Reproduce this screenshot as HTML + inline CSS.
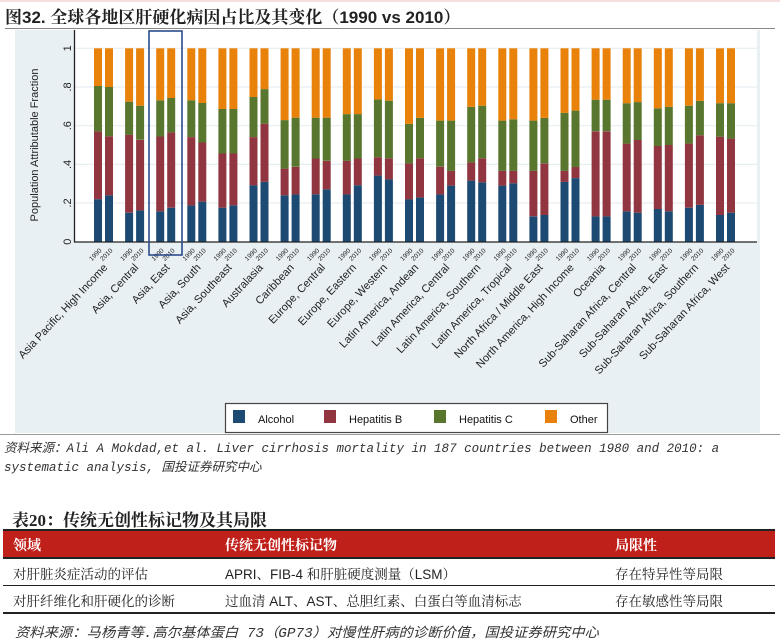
<!DOCTYPE html>
<html><head><meta charset="utf-8"><style>
html,body{margin:0;padding:0;background:#fff;}
body{width:780px;height:641px;position:relative;overflow:hidden;font-family:"Liberation Sans","Noto Sans CJK SC",sans-serif;}
.abs{position:absolute;white-space:nowrap;}
.title{left:5px;top:3px;font-size:17px;font-weight:bold;font-family:"Liberation Sans","Noto Serif CJK SC",serif;color:#222;}
.src{font-family:"Liberation Mono","Noto Sans CJK SC",monospace;font-style:italic;font-size:12.5px;color:#333;transform:scaleX(1.0);transform-origin:left;}
.cell{font-family:"Liberation Sans","Noto Serif CJK SC",serif;font-size:13.5px;color:#222;}
.hd{font-family:"Liberation Sans","Noto Serif CJK SC",serif;font-size:14px;font-weight:bold;color:#fff;}
</style></head><body>
<div class="abs" style="left:0;top:0;width:780px;height:2px;background:#f6dede"></div>
<div class="abs title">图32. 全球各地区肝硬化病因占比及其变化（1990 vs 2010）</div>
<div class="abs" style="left:5px;top:28px;width:770px;height:1px;background:#888"></div>
<svg class="abs" style="left:0;top:0" width="780" height="440" id="chart" xmlns="http://www.w3.org/2000/svg">
<rect x="15" y="30" width="745" height="403" fill="#e9f0f3"/>
<rect x="75" y="30" width="682" height="212" fill="#fff"/>
<g stroke="#e6eef0" stroke-width="1.2">
<line x1="75" x2="757" y1="48.3" y2="48.3"/><line x1="75" x2="757" y1="87" y2="87"/><line x1="75" x2="757" y1="125.7" y2="125.7"/><line x1="75" x2="757" y1="164.4" y2="164.4"/><line x1="75" x2="757" y1="203" y2="203"/>
</g>
<g id="bars"></g>
<line x1="74.5" y1="30" x2="74.5" y2="242.5" stroke="#222" stroke-width="1.3"/>
<line x1="74" y1="242" x2="757" y2="242" stroke="#222" stroke-width="1.3"/>
<g font-size="11" fill="#222" font-family="Liberation Sans,sans-serif">
<text transform="translate(71,241.7) rotate(-90)" text-anchor="middle">0</text>
<text transform="translate(71,203) rotate(-90)" text-anchor="middle">.2</text>
<text transform="translate(71,164.4) rotate(-90)" text-anchor="middle">.4</text>
<text transform="translate(71,125.7) rotate(-90)" text-anchor="middle">.6</text>
<text transform="translate(71,87) rotate(-90)" text-anchor="middle">.8</text>
<text transform="translate(71,48.3) rotate(-90)" text-anchor="middle">1</text>
<text transform="translate(38,145) rotate(-90)" text-anchor="middle" font-size="11">Population Attributable Fraction</text>
</g>
<g id="labels" font-family="Liberation Sans,sans-serif" fill="#222"></g>
<rect x="149" y="31" width="33" height="224" fill="none" stroke="#2a4c8c" stroke-width="1.6"/>
<rect x="225.5" y="403.5" width="382" height="29" fill="#fff" stroke="#444" stroke-width="1.2"/>
<g font-size="11" fill="#111">
<rect x="233" y="410" width="12" height="13" fill="#1d4a73"/><text x="258" y="423">Alcohol</text>
<rect x="324" y="410" width="12" height="13" fill="#913640"/><text x="349" y="423">Hepatitis B</text>
<rect x="434" y="410" width="12" height="13" fill="#59762f"/><text x="459" y="423">Hepatitis C</text>
<rect x="545" y="410" width="12" height="13" fill="#e8820a"/><text x="570" y="423">Other</text>
</g>
</svg>
<div class="abs" style="left:0;top:434px;width:780px;height:1px;background:#999"></div>
<div class="abs src" style="left:4px;top:437px">资料来源：Ali A Mokdad,et al. Liver cirrhosis mortality in 187 countries between 1980 and 2010: a</div>
<div class="abs src" style="left:4px;top:456px">systematic analysis, 国投证券研究中心</div>
<div class="abs" style="left:12px;top:506px;font-size:17px;font-weight:bold;font-family:'Liberation Serif','Noto Serif CJK SC',serif;color:#222">表20：传统无创性标记物及其局限</div>
<div class="abs" style="left:3px;top:529px;width:772px;height:2px;background:#222"></div>
<div class="abs" style="left:3px;top:531px;width:772px;height:26px;background:#c0201a"></div>
<div class="abs" style="left:3px;top:557px;width:772px;height:2px;background:#222"></div>
<div class="abs hd" style="left:13px;top:535px">领域</div>
<div class="abs hd" style="left:225px;top:535px">传统无创性标记物</div>
<div class="abs hd" style="left:615px;top:535px">局限性</div>
<div class="abs cell" style="left:13px;top:563px">对肝脏炎症活动的评估</div>
<div class="abs cell" style="left:225px;top:563px">APRI、FIB-4 和肝脏硬度测量（LSM）</div>
<div class="abs cell" style="left:615px;top:563px">存在特异性等局限</div>
<div class="abs" style="left:3px;top:585px;width:772px;height:1px;background:#222"></div>
<div class="abs cell" style="left:13px;top:590px">对肝纤维化和肝硬化的诊断</div>
<div class="abs cell" style="left:225px;top:590px">过血清 ALT、AST、总胆红素、白蛋白等血清标志</div>
<div class="abs cell" style="left:615px;top:590px">存在敏感性等局限</div>
<div class="abs" style="left:3px;top:612px;width:772px;height:2px;background:#222"></div>
<div class="abs src" style="left:15px;top:621px;font-size:13.5px;transform:scaleX(1.06)">资料来源：马杨青等.高尔基体蛋白 73（GP73）对慢性肝病的诊断价值，国投证券研究中心</div>
<script>
var D=[
[[.22,.57,.805],[.24,.545,.80]],
[[.15,.553,.724],[.162,.527,.703]],
[[.157,.544,.731],[.176,.565,.743]],
[[.188,.541,.731],[.207,.513,.717]],
[[.176,.456,.686],[.188,.456,.686]],
[[.292,.541,.748],[.309,.61,.789]],
[[.24,.378,.629],[.245,.387,.641]],
[[.245,.43,.641],[.271,.418,.641]],
[[.245,.418,.66],[.292,.43,.66]],
[[.342,.437,.736],[.322,.431,.729]],
[[.219,.405,.609],[.228,.431,.64]],
[[.245,.388,.626],[.29,.366,.626]],
[[.316,.41,.697],[.307,.431,.703]],
[[.29,.366,.626],[.302,.366,.633]],
[[.131,.366,.626],[.138,.405,.64]],
[[.309,.366,.666],[.329,.386,.678]],
[[.131,.571,.734],[.131,.571,.734]],
[[.157,.507,.716],[.15,.526,.722]],
[[.169,.495,.69],[.157,.5,.697]],
[[.176,.507,.703],[.19,.55,.728]],
[[.138,.543,.716],[.15,.533,.716]]];
var L=["Asia Pacific, High Income","Asia, Central","Asia, East","Asia, South","Asia, Southeast","Australasia","Caribbean","Europe, Central","Europe, Eastern","Europe, Western","Latin America, Andean","Latin America, Central","Latin America, Southern","Latin America, Tropical","North Africa / Middle East","North America, High Income","Oceania","Sub-Saharan Africa, Central","Sub-Saharan Africa, East","Sub-Saharan Africa, Southern","Sub-Saharan Africa, West"];
var C=["#1d4a73","#913640","#59762f","#e8820a"];
var s="",t="";
function Y(v){return 241.7-v*193.4;}
for(var i=0;i<21;i++){var x0=94+i*31.1;
for(var k=0;k<2;k++){var x=x0+k*11,v=[0].concat(D[i][k]).concat([1]);
for(var j=0;j<4;j++){s+='<rect x="'+x.toFixed(1)+'" y="'+Y(v[j+1]).toFixed(1)+'" width="8" height="'+(Y(v[j])-Y(v[j+1])).toFixed(1)+'" fill="'+C[j]+'"/>';}
var yr=k?"2010":"1990";
t+='<text font-size="6.5" text-anchor="end" transform="translate('+(x+8).toFixed(1)+',251) rotate(-45)">'+yr+'</text>';}
t+='<text font-size="11" text-anchor="end" transform="translate('+(x0+14).toFixed(1)+',268) rotate(-47)">'+L[i]+'</text>';}
document.getElementById("bars").innerHTML=s;
document.getElementById("labels").innerHTML=t;
</script>
</body></html>
